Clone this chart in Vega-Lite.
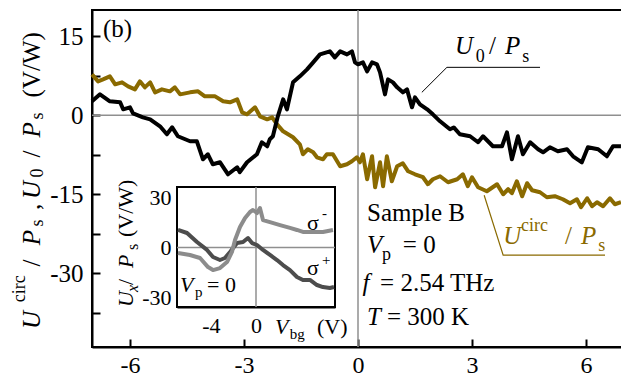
{
  "$schema": "https://vega.github.io/schema/vega-lite/v6.json",
  "width": 532,
  "height": 337,
  "autosize": {"type": "none"},
  "padding": {"left": 92, "top": 10, "right": 0, "bottom": 32},
  "background": "white",
  "config": {
    "view": {"stroke": "black", "strokeWidth": 2},
    "text": {"font": "Liberation Serif", "color": "black"},
    "axis": {"labelFont": "Liberation Serif", "labelColor": "black", "grid": false, "domainColor": "black", "tickColor": "black", "labelFlush": false, "labelOverlap": false}
  },
  "datasets": {
    "u0": [
      {"x":-7.0,"y":2.66},{"x":-6.79,"y":3.98},{"x":-6.53,"y":2.66},{"x":-6.26,"y":2.47},{"x":-6.18,"y":1.14},{"x":-6.0,"y":1.52},{"x":-5.92,"y":0.38},{"x":-5.66,"y":-0.38},{"x":-5.47,"y":-0.76},{"x":-5.21,"y":-2.09},{"x":-5.03,"y":-3.6},{"x":-4.89,"y":-2.28},{"x":-4.74,"y":-3.98},{"x":-4.42,"y":-4.93},{"x":-4.24,"y":-4.93},{"x":-4.08,"y":-8.35},{"x":-3.95,"y":-7.4},{"x":-3.82,"y":-9.3},{"x":-3.63,"y":-8.92},{"x":-3.42,"y":-11.2},{"x":-3.18,"y":-9.87},{"x":-3.11,"y":-10.8},{"x":-2.92,"y":-8.92},{"x":-2.66,"y":-7.4},{"x":-2.53,"y":-5.12},{"x":-2.39,"y":-5.88},{"x":-2.32,"y":-4.55},{"x":-2.24,"y":-3.98},{"x":-2.11,"y":-0.19},{"x":-1.97,"y":3.04},{"x":-1.87,"y":1.14},{"x":-1.71,"y":6.26},{"x":-1.53,"y":7.4},{"x":-1.34,"y":8.73},{"x":-1.18,"y":10.06},{"x":-1.0,"y":11.57},{"x":-0.74,"y":12.14},{"x":-0.61,"y":11.0},{"x":-0.47,"y":12.14},{"x":-0.29,"y":11.57},{"x":-0.16,"y":12.14},{"x":-0.08,"y":10.06},{"x":0.0,"y":9.68},{"x":0.13,"y":10.06},{"x":0.24,"y":8.35},{"x":0.37,"y":10.06},{"x":0.5,"y":9.68},{"x":0.58,"y":8.16},{"x":0.71,"y":3.98},{"x":0.79,"y":6.83},{"x":0.92,"y":6.26},{"x":1.03,"y":5.31},{"x":1.18,"y":4.36},{"x":1.29,"y":4.93},{"x":1.42,"y":1.52},{"x":1.5,"y":3.42},{"x":1.63,"y":2.09},{"x":1.82,"y":1.14},{"x":1.97,"y":0.19},{"x":2.16,"y":-1.14},{"x":2.42,"y":-2.66},{"x":2.52,"y":-2.3},{"x":2.68,"y":-3.6},{"x":2.95,"y":-3.98},{"x":3.16,"y":-5.12},{"x":3.29,"y":-3.98},{"x":3.55,"y":-5.88},{"x":3.79,"y":-5.88},{"x":3.92,"y":-3.23},{"x":4.05,"y":-8.35},{"x":4.21,"y":-3.98},{"x":4.34,"y":-7.4},{"x":4.53,"y":-5.12},{"x":4.74,"y":-6.45},{"x":4.87,"y":-7.02},{"x":5.05,"y":-6.07},{"x":5.26,"y":-6.83},{"x":5.5,"y":-6.45},{"x":5.66,"y":-7.78},{"x":5.89,"y":-8.92},{"x":6.05,"y":-6.07},{"x":6.32,"y":-6.45},{"x":6.55,"y":-7.78},{"x":6.71,"y":-5.88},{"x":6.92,"y":-5.88}
    ],
    "ucirc": [
      {"x":-7.0,"y":7.78},{"x":-6.84,"y":6.45},{"x":-6.71,"y":6.83},{"x":-6.53,"y":7.4},{"x":-6.39,"y":5.88},{"x":-6.21,"y":6.26},{"x":-6.05,"y":5.5},{"x":-5.87,"y":4.93},{"x":-5.74,"y":6.45},{"x":-5.61,"y":5.31},{"x":-5.47,"y":6.26},{"x":-5.34,"y":4.36},{"x":-5.16,"y":4.93},{"x":-4.95,"y":4.55},{"x":-4.82,"y":5.31},{"x":-4.68,"y":3.98},{"x":-4.42,"y":4.36},{"x":-4.21,"y":4.55},{"x":-4.03,"y":3.6},{"x":-3.76,"y":3.6},{"x":-3.55,"y":2.66},{"x":-3.37,"y":2.47},{"x":-3.18,"y":3.04},{"x":-3.05,"y":0.57},{"x":-2.92,"y":0.19},{"x":-2.71,"y":1.52},{"x":-2.58,"y":-0.19},{"x":-2.39,"y":-0.76},{"x":-2.26,"y":-0.38},{"x":-2.13,"y":-1.71},{"x":-1.97,"y":-3.04},{"x":-1.71,"y":-4.17},{"x":-1.53,"y":-5.5},{"x":-1.45,"y":-7.4},{"x":-1.32,"y":-6.45},{"x":-1.18,"y":-7.02},{"x":-1.08,"y":-7.97},{"x":-0.92,"y":-8.35},{"x":-0.82,"y":-7.4},{"x":-0.66,"y":-7.4},{"x":-0.47,"y":-9.68},{"x":-0.29,"y":-9.3},{"x":-0.16,"y":-8.73},{"x":-0.03,"y":-7.97},{"x":0.05,"y":-8.92},{"x":0.13,"y":-7.4},{"x":0.24,"y":-12.14},{"x":0.37,"y":-7.78},{"x":0.45,"y":-13.66},{"x":0.58,"y":-8.92},{"x":0.66,"y":-13.47},{"x":0.76,"y":-7.78},{"x":0.89,"y":-12.52},{"x":1.03,"y":-9.68},{"x":1.18,"y":-9.11},{"x":1.32,"y":-10.63},{"x":1.5,"y":-11.2},{"x":1.71,"y":-11.76},{"x":1.84,"y":-13.09},{"x":1.97,"y":-12.14},{"x":2.16,"y":-11.57},{"x":2.37,"y":-12.71},{"x":2.61,"y":-12.14},{"x":2.76,"y":-11.2},{"x":2.89,"y":-13.47},{"x":3.0,"y":-11.76},{"x":3.16,"y":-13.66},{"x":3.39,"y":-14.42},{"x":3.66,"y":-13.09},{"x":3.82,"y":-14.99},{"x":3.95,"y":-14.04},{"x":4.05,"y":-14.8},{"x":4.18,"y":-12.52},{"x":4.32,"y":-15.37},{"x":4.45,"y":-12.9},{"x":4.58,"y":-14.23},{"x":4.79,"y":-14.61},{"x":4.97,"y":-15.56},{"x":5.18,"y":-15.37},{"x":5.39,"y":-15.94},{"x":5.58,"y":-16.7},{"x":5.76,"y":-15.94},{"x":5.87,"y":-17.46},{"x":6.03,"y":-15.75},{"x":6.16,"y":-17.27},{"x":6.29,"y":-16.51},{"x":6.45,"y":-17.27},{"x":6.63,"y":-15.75},{"x":6.76,"y":-16.89},{"x":6.92,"y":-16.51}
    ],
    "splus": [
      {"x":-6.91,"y":10.4},{"x":-6.11,"y":8.6},{"x":-5.23,"y":3.2},{"x":-4.34,"y":-1.5},{"x":-3.81,"y":-5.7},{"x":-3.19,"y":-7.5},{"x":-2.75,"y":-6.3},{"x":-2.3,"y":-2.7},{"x":-1.68,"y":2.6},{"x":-1.15,"y":3.2},{"x":-0.71,"y":5.6},{"x":-0.35,"y":2.6},{"x":0.09,"y":1.4},{"x":0.62,"y":-1.5},{"x":1.24,"y":-4.5},{"x":1.86,"y":-7.5},{"x":2.39,"y":-10.5},{"x":3.01,"y":-13.5},{"x":3.63,"y":-17.6},{"x":4.16,"y":-19.4},{"x":4.78,"y":-19.4},{"x":5.4,"y":-22.4},{"x":5.93,"y":-23.6},{"x":6.55,"y":-24.2},{"x":6.91,"y":-23.6}
    ],
    "sminus": [
      {"x":-6.91,"y":-3.3},{"x":-5.85,"y":-4.5},{"x":-4.96,"y":-6.3},{"x":-4.25,"y":-11.7},{"x":-3.81,"y":-13.5},{"x":-3.19,"y":-12.3},{"x":-2.57,"y":-8.7},{"x":-2.13,"y":-2.7},{"x":-1.86,"y":4.4},{"x":-1.42,"y":12.2},{"x":-0.97,"y":17.5},{"x":-0.53,"y":21.1},{"x":-0.27,"y":22.3},{"x":0.09,"y":20.5},{"x":0.35,"y":23.5},{"x":0.62,"y":16.3},{"x":1.24,"y":15.1},{"x":2.13,"y":13.3},{"x":3.01,"y":11.6},{"x":3.63,"y":10.4},{"x":4.16,"y":9.2},{"x":5.05,"y":9.2},{"x":5.93,"y":9.2},{"x":6.82,"y":10.4}
    ]
  },
  "layer": [
    {
      "data": {"values": [{}]},
      "mark": {"type": "rule", "color": "#8f8f8f", "strokeWidth": 1.5},
      "encoding": {"x": {"datum": 0, "type": "quantitative", "scale": {"domain": [-7, 7], "nice": false, "zero": false},
        "axis": {"orient": "bottom", "offset": -8, "title": null, "values": [-6, -3, 0, 3, 6], "domain": false, "labels": false, "ticks": true, "tickSize": 8, "tickWidth": 2}}}
    },
    {
      "data": {"values": [{}]},
      "mark": {"type": "rule", "color": "#8f8f8f", "strokeWidth": 1.5},
      "encoding": {"y": {"datum": 0, "type": "quantitative", "scale": {"domain": [-44, 20], "nice": false, "zero": false},
        "axis": {"orient": "left", "offset": -8, "title": null, "values": [-37.5, -30, -22.5, -15, -7.5, 0, 7.5, 15], "domain": false, "labels": false, "ticks": true, "tickSize": 8, "tickWidth": 2}}}
    },
    {
      "data": {"name": "ucirc"},
      "mark": {"type": "line", "color": "#8a6a00", "strokeWidth": 4, "strokeJoin": "round"},
      "encoding": {
        "x": {"field": "x", "type": "quantitative", "scale": {"domain": [-7, 7], "nice": false, "zero": false}, "axis": null},
        "y": {"field": "y", "type": "quantitative", "scale": {"domain": [-44, 20], "nice": false, "zero": false}, "axis": null}
      }
    },
    {
      "data": {"name": "u0"},
      "mark": {"type": "line", "color": "black", "strokeWidth": 4, "strokeJoin": "round"},
      "encoding": {
        "x": {"field": "x", "type": "quantitative", "scale": {"domain": [-7, 7], "nice": false, "zero": false},
          "axis": {"orient": "bottom", "title": null, "values": [-6, -3, 0, 3, 6], "domainWidth": 2, "ticks": false, "labelPadding": 6, "labelFontSize": 24, "labelExpr": "toString(datum.value)"}},
        "y": {"field": "y", "type": "quantitative", "scale": {"domain": [-44, 20], "nice": false, "zero": false},
          "axis": {"orient": "left", "title": null, "values": [-30, -15, 0, 15], "domainWidth": 2, "ticks": false, "labelPadding": 9, "labelFontSize": 25, "labelExpr": "toString(datum.value)"}}
      }
    },
    {
      "data": {"values": [{"x": 1.68, "y": 4.36, "o": 1}, {"x": 2.34, "y": 9.11, "o": 2}, {"x": 4.79, "y": 9.11, "o": 3}]},
      "mark": {"type": "line", "color": "black", "strokeWidth": 1},
      "encoding": {
        "x": {"field": "x", "type": "quantitative", "scale": {"domain": [-7, 7], "nice": false, "zero": false}, "axis": null},
        "y": {"field": "y", "type": "quantitative", "scale": {"domain": [-44, 20], "nice": false, "zero": false}, "axis": null},
        "order": {"field": "o"}
      }
    },
    {
      "data": {"values": [{"x": 3.32, "y": -15.18, "o": 1}, {"x": 3.82, "y": -26.57, "o": 2}, {"x": 6.5, "y": -26.57, "o": 3}]},
      "mark": {"type": "line", "color": "#8a6a00", "strokeWidth": 1.2},
      "encoding": {
        "x": {"field": "x", "type": "quantitative", "scale": {"domain": [-7, 7], "nice": false, "zero": false}, "axis": null},
        "y": {"field": "y", "type": "quantitative", "scale": {"domain": [-44, 20], "nice": false, "zero": false}, "axis": null},
        "order": {"field": "o"}
      }
    },
    {
      "data": {"values": [{"x": 2.55, "y": 11.57, "t": "U"}, {"x": 3.87, "y": 11.57, "t": "P"}, {"x": 0.24, "y": -26.2, "t": "V"}, {"x": 0.12, "y": -33.4, "t": "f"}, {"x": 0.24, "y": -39.8, "t": "T"}]},
      "mark": {"type": "text", "fontSize": 25, "fontStyle": "italic", "align": "left", "baseline": "alphabetic"},
      "encoding": {
        "x": {"field": "x", "type": "quantitative", "scale": {"domain": [-7, 7], "nice": false, "zero": false}, "axis": null},
        "y": {"field": "y", "type": "quantitative", "scale": {"domain": [-44, 20], "nice": false, "zero": false}, "axis": null},
        "text": {"field": "t"}
      }
    },
    {
      "data": {"values": [{"x": -6.71, "y": 14.8, "t": "(b)"}, {"x": 3.45, "y": 11.57, "t": "/"}, {"x": 0.24, "y": -20.1, "t": "Sample B"}, {"x": 1.18, "y": -26.2, "t": "= 0"}, {"x": 0.58, "y": -33.4, "t": "= 2.54 THz"}, {"x": 0.76, "y": -39.8, "t": "= 300 K"}]},
      "mark": {"type": "text", "fontSize": 25, "align": "left", "baseline": "alphabetic"},
      "encoding": {
        "x": {"field": "x", "type": "quantitative", "scale": {"domain": [-7, 7], "nice": false, "zero": false}, "axis": null},
        "y": {"field": "y", "type": "quantitative", "scale": {"domain": [-44, 20], "nice": false, "zero": false}, "axis": null},
        "text": {"field": "t"}
      }
    },
    {
      "data": {"values": [{"x": 3.1, "y": 10.06, "t": "0"}, {"x": 4.32, "y": 10.06, "t": "s"}, {"x": 0.63, "y": -27.4, "t": "p"}]},
      "mark": {"type": "text", "fontSize": 18, "align": "left", "baseline": "alphabetic"},
      "encoding": {
        "x": {"field": "x", "type": "quantitative", "scale": {"domain": [-7, 7], "nice": false, "zero": false}, "axis": null},
        "y": {"field": "y", "type": "quantitative", "scale": {"domain": [-44, 20], "nice": false, "zero": false}, "axis": null},
        "text": {"field": "t"}
      }
    },
    {
      "data": {"values": [{"x": 3.82, "y": -24.48, "t": "U"}, {"x": 5.87, "y": -24.48, "t": "P"}]},
      "mark": {"type": "text", "fontSize": 25, "fontStyle": "italic", "align": "left", "baseline": "alphabetic", "color": "#8a6a00"},
      "encoding": {
        "x": {"field": "x", "type": "quantitative", "scale": {"domain": [-7, 7], "nice": false, "zero": false}, "axis": null},
        "y": {"field": "y", "type": "quantitative", "scale": {"domain": [-44, 20], "nice": false, "zero": false}, "axis": null},
        "text": {"field": "t"}
      }
    },
    {
      "data": {"values": [{"x": 5.45, "y": -24.48, "t": "/"}]},
      "mark": {"type": "text", "fontSize": 25, "align": "left", "baseline": "alphabetic", "color": "#8a6a00"},
      "encoding": {
        "x": {"field": "x", "type": "quantitative", "scale": {"domain": [-7, 7], "nice": false, "zero": false}, "axis": null},
        "y": {"field": "y", "type": "quantitative", "scale": {"domain": [-44, 20], "nice": false, "zero": false}, "axis": null},
        "text": {"field": "t"}
      }
    },
    {
      "data": {"values": [{"x": 4.29, "y": -22.0, "t": "circ"}, {"x": 6.32, "y": -25.8, "t": "s"}]},
      "mark": {"type": "text", "fontSize": 18, "align": "left", "baseline": "alphabetic", "color": "#8a6a00"},
      "encoding": {
        "x": {"field": "x", "type": "quantitative", "scale": {"domain": [-7, 7], "nice": false, "zero": false}, "axis": null},
        "y": {"field": "y", "type": "quantitative", "scale": {"domain": [-44, 20], "nice": false, "zero": false}, "axis": null},
        "text": {"field": "t"}
      }
    },
    {
      "data": {"values": [{"x": -8.37, "y": -40.6, "t": "U"}, {"x": -8.37, "y": -24.7, "t": "P"}, {"x": -8.37, "y": -15.9, "t": "U"}, {"x": -8.37, "y": -4.2, "t": "P"}]},
      "mark": {"type": "text", "fontSize": 25, "fontStyle": "italic", "angle": 270, "align": "left", "baseline": "alphabetic"},
      "encoding": {
        "x": {"field": "x", "type": "quantitative", "scale": {"domain": [-7, 7], "nice": false, "zero": false}, "axis": null},
        "y": {"field": "y", "type": "quantitative", "scale": {"domain": [-44, 20], "nice": false, "zero": false}, "axis": null},
        "text": {"field": "t"}
      }
    },
    {
      "data": {"values": [{"x": -8.37, "y": -28.7, "t": "/"}, {"x": -8.37, "y": -18.0, "t": ","}, {"x": -8.37, "y": -8.0, "t": "/"}, {"x": -8.37, "y": 3.4, "t": "(V/W)"}]},
      "mark": {"type": "text", "fontSize": 25, "angle": 270, "align": "left", "baseline": "alphabetic"},
      "encoding": {
        "x": {"field": "x", "type": "quantitative", "scale": {"domain": [-7, 7], "nice": false, "zero": false}, "axis": null},
        "y": {"field": "y", "type": "quantitative", "scale": {"domain": [-44, 20], "nice": false, "zero": false}, "axis": null},
        "text": {"field": "t"}
      }
    },
    {
      "data": {"values": [{"x": -8.76, "y": -35.5, "t": "circ"}, {"x": -8.29, "y": -21.1, "t": "s"}, {"x": -8.29, "y": -11.8, "t": "0"}, {"x": -8.29, "y": -0.8, "t": "s"}]},
      "mark": {"type": "text", "fontSize": 18, "angle": 270, "align": "left", "baseline": "alphabetic"},
      "encoding": {
        "x": {"field": "x", "type": "quantitative", "scale": {"domain": [-7, 7], "nice": false, "zero": false}, "axis": null},
        "y": {"field": "y", "type": "quantitative", "scale": {"domain": [-44, 20], "nice": false, "zero": false}, "axis": null},
        "text": {"field": "t"}
      }
    },
    {
      "data": {"values": [{}]},
      "mark": {"type": "rect", "fill": "white", "stroke": "black", "strokeWidth": 2},
      "encoding": {
        "x": {"datum": -7, "type": "quantitative", "scale": {"domain": [-7, 7], "range": [85, 243], "nice": false, "zero": false}, "axis": null},
        "x2": {"datum": 7},
        "y": {"datum": -35.5, "type": "quantitative", "scale": {"domain": [-35.5, 36], "range": [297, 177], "nice": false, "zero": false}, "axis": null},
        "y2": {"datum": 36}
      }
    },
    {
      "data": {"values": [{}]},
      "mark": {"type": "rule", "color": "#8f8f8f", "strokeWidth": 1.5},
      "encoding": {
        "x": {"datum": 0, "type": "quantitative", "scale": {"domain": [-7, 7], "range": [85, 243], "nice": false, "zero": false},
          "axis": {"orient": "bottom", "offset": -46, "title": null, "values": [-6, -4, -2, 0, 2, 4, 6], "domain": false, "labels": false, "ticks": true, "tickSize": 6, "tickWidth": 2}},
        "y": {"datum": -35.5, "type": "quantitative", "scale": {"domain": [-35.5, 36], "range": [297, 177], "nice": false, "zero": false}, "axis": null},
        "y2": {"datum": 36}
      }
    },
    {
      "data": {"values": [{}]},
      "mark": {"type": "rule", "color": "#8f8f8f", "strokeWidth": 1.5},
      "encoding": {
        "x": {"datum": -7, "type": "quantitative", "scale": {"domain": [-7, 7], "range": [85, 243], "nice": false, "zero": false}, "axis": null},
        "x2": {"datum": 7},
        "y": {"datum": 0, "type": "quantitative", "scale": {"domain": [-35.5, 36], "range": [297, 177], "nice": false, "zero": false},
          "axis": {"orient": "left", "offset": -91, "title": null, "values": [-30, -15, 0, 15, 30], "domain": false, "labels": false, "ticks": true, "tickSize": 6, "tickWidth": 2}}
      }
    },
    {
      "data": {"name": "splus"},
      "mark": {"type": "line", "color": "#4d4d4d", "strokeWidth": 4, "strokeJoin": "round"},
      "encoding": {
        "x": {"field": "x", "type": "quantitative", "scale": {"domain": [-7, 7], "range": [85, 243], "nice": false, "zero": false}, "axis": null},
        "y": {"field": "y", "type": "quantitative", "scale": {"domain": [-35.5, 36], "range": [297, 177], "nice": false, "zero": false}, "axis": null}
      }
    },
    {
      "data": {"name": "sminus"},
      "mark": {"type": "line", "color": "#8c8c8c", "strokeWidth": 4, "strokeJoin": "round"},
      "encoding": {
        "x": {"field": "x", "type": "quantitative", "scale": {"domain": [-7, 7], "range": [85, 243], "nice": false, "zero": false},
          "axis": {"orient": "bottom", "offset": -40, "title": null, "values": [-4, 0], "domainWidth": 2, "ticks": false, "labelPadding": 8, "labelFontSize": 22, "labelExpr": "toString(datum.value)"}},
        "y": {"field": "y", "type": "quantitative", "scale": {"domain": [-35.5, 36], "range": [297, 177], "nice": false, "zero": false},
          "axis": {"orient": "left", "offset": -85, "title": null, "values": [-30, 0, 30], "domainWidth": 2, "ticks": false, "labelPadding": 6, "labelFontSize": 22, "labelExpr": "toString(datum.value)"}}
      }
    },
    {
      "data": {"values": [{"x": 4.52, "y": 10.4, "t": "σ"}, {"x": 4.52, "y": -16.4, "t": "σ"}, {"x": -4.34, "y": -26.6, "t": "= 0"}, {"x": 5.4, "y": -51.6, "t": "(V)"}]},
      "mark": {"type": "text", "fontSize": 22, "align": "left", "baseline": "alphabetic"},
      "encoding": {
        "x": {"field": "x", "type": "quantitative", "scale": {"domain": [-7, 7], "range": [85, 243], "nice": false, "zero": false}, "axis": null},
        "y": {"field": "y", "type": "quantitative", "scale": {"domain": [-35.5, 36], "range": [297, 177], "nice": false, "zero": false}, "axis": null},
        "text": {"field": "t"}
      }
    },
    {
      "data": {"values": [{"x": -6.73, "y": -26.6, "t": "V"}, {"x": 1.68, "y": -51.6, "t": "V"}]},
      "mark": {"type": "text", "fontSize": 22, "fontStyle": "italic", "align": "left", "baseline": "alphabetic"},
      "encoding": {
        "x": {"field": "x", "type": "quantitative", "scale": {"domain": [-7, 7], "range": [85, 243], "nice": false, "zero": false}, "axis": null},
        "y": {"field": "y", "type": "quantitative", "scale": {"domain": [-35.5, 36], "range": [297, 177], "nice": false, "zero": false}, "axis": null},
        "text": {"field": "t"}
      }
    },
    {
      "data": {"values": [{"x": 5.85, "y": 17.5, "t": "-"}, {"x": 5.85, "y": -10.5, "t": "+"}, {"x": -5.4, "y": -29.6, "t": "p"}, {"x": 3.0, "y": -54.5, "t": "bg"}]},
      "mark": {"type": "text", "fontSize": 15, "align": "left", "baseline": "alphabetic"},
      "encoding": {
        "x": {"field": "x", "type": "quantitative", "scale": {"domain": [-7, 7], "range": [85, 243], "nice": false, "zero": false}, "axis": null},
        "y": {"field": "y", "type": "quantitative", "scale": {"domain": [-35.5, 36], "range": [297, 177], "nice": false, "zero": false}, "axis": null},
        "text": {"field": "t"}
      }
    },
    {
      "data": {"values": [{"x": -10.9, "y": -35.5, "t": "U"}, {"x": -10.9, "y": -12.3, "t": "P"}]},
      "mark": {"type": "text", "fontSize": 22, "fontStyle": "italic", "angle": 270, "align": "left", "baseline": "alphabetic"},
      "encoding": {
        "x": {"field": "x", "type": "quantitative", "scale": {"domain": [-7, 7], "range": [85, 243], "nice": false, "zero": false}, "axis": null},
        "y": {"field": "y", "type": "quantitative", "scale": {"domain": [-35.5, 36], "range": [297, 177], "nice": false, "zero": false}, "axis": null},
        "text": {"field": "t"}
      }
    },
    {
      "data": {"values": [{"x": -10.9, "y": -22.4, "t": "/"}, {"x": -10.9, "y": 6.2, "t": "(V/W)"}]},
      "mark": {"type": "text", "fontSize": 22, "angle": 270, "align": "left", "baseline": "alphabetic"},
      "encoding": {
        "x": {"field": "x", "type": "quantitative", "scale": {"domain": [-7, 7], "range": [85, 243], "nice": false, "zero": false}, "axis": null},
        "y": {"field": "y", "type": "quantitative", "scale": {"domain": [-35.5, 36], "range": [297, 177], "nice": false, "zero": false}, "axis": null},
        "text": {"field": "t"}
      }
    },
    {
      "data": {"values": [{"x": -10.45, "y": -26.6, "t": "x"}]},
      "mark": {"type": "text", "fontSize": 16, "fontStyle": "italic", "angle": 270, "align": "left", "baseline": "alphabetic"},
      "encoding": {
        "x": {"field": "x", "type": "quantitative", "scale": {"domain": [-7, 7], "range": [85, 243], "nice": false, "zero": false}, "axis": null},
        "y": {"field": "y", "type": "quantitative", "scale": {"domain": [-35.5, 36], "range": [297, 177], "nice": false, "zero": false}, "axis": null},
        "text": {"field": "t"}
      }
    },
    {
      "data": {"values": [{"x": -10.45, "y": -1.5, "t": "s"}]},
      "mark": {"type": "text", "fontSize": 16, "angle": 270, "align": "left", "baseline": "alphabetic"},
      "encoding": {
        "x": {"field": "x", "type": "quantitative", "scale": {"domain": [-7, 7], "range": [85, 243], "nice": false, "zero": false}, "axis": null},
        "y": {"field": "y", "type": "quantitative", "scale": {"domain": [-35.5, 36], "range": [297, 177], "nice": false, "zero": false}, "axis": null},
        "text": {"field": "t"}
      }
    }
  ],
  "resolve": {"scale": {"x": "independent", "y": "independent"}, "axis": {"x": "independent", "y": "independent"}}
}
